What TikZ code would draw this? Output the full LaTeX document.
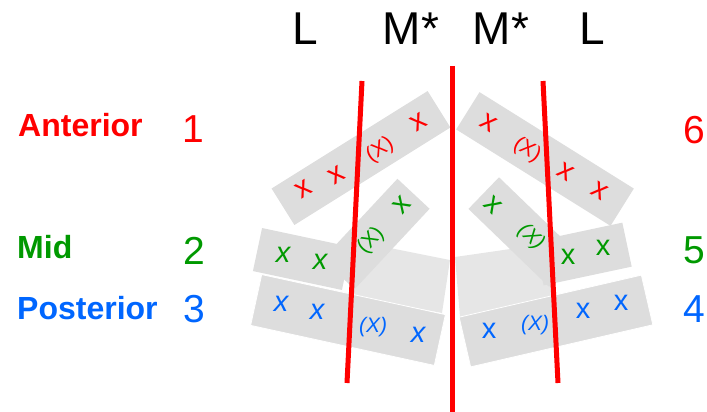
\documentclass[tikz,border=0pt]{standalone}
\usepackage{fontspec}
\setmainfont{Liberation Sans}
\usepackage{tikz}
\usetikzlibrary{positioning}
\definecolor{antred}{RGB}{255,0,0}
\definecolor{midgreen}{RGB}{0,153,0}
\definecolor{postblue}{RGB}{0,102,255}
\definecolor{boxgray}{RGB}{221,221,221}
\definecolor{shadegray}{RGB}{230,230,230}

\begin{document}
\begin{tikzpicture}[
    x=1pt, y=-1pt,
    head/.style={anchor=base, inner sep=0pt, font=\fontsize{46}{50}\selectfont},
    side/.style={anchor=base west, inner sep=0pt, font=\fontsize{32}{36}\selectfont\bfseries},
    num/.style={anchor=base, inner sep=0pt, font=\fontsize{39}{42}\selectfont},
    slab/.style={rectangle, fill=boxgray, inner sep=0pt},
    xmark/.style={inner sep=0pt, font=\fontsize{29}{31}\selectfont},
    ixmark/.style={inner sep=0pt, font=\fontsize{29}{31}\selectfont\itshape},
    pmark/.style={inner sep=0pt, font=\fontsize{21}{23}\selectfont},
    ipmark/.style={inner sep=0pt, font=\fontsize{21}{23}\selectfont\itshape},
    cut/.style={draw=antred, line width=5pt}
]
\useasboundingbox (0,0) rectangle (707,412);

% Header
\node[head] (hl1) at (305,45) {L};
\node[head] (hm1) at (411,45) {M*};
\node[head] (hm2) at (501,45) {M*};
\node[head] (hl2) at (592,45) {L};

% Row labels
\node[side, text=antred] (ant) at (18,136) {Anterior};
\node[side, text=midgreen] (mid) at (17,258) {Mid};
\node[side, text=postblue] (post) at (17,319) {Posterior};
\node[num, text=antred] (n1) at (193,142) {1};
\node[num, text=midgreen] (n2) at (194,264) {2};
\node[num, text=postblue] (n3) at (194,322) {3};
\node[num, text=antred] (n6) at (694,143) {6};
\node[num, text=midgreen] (n5) at (694,263) {5};
\node[num, text=postblue] (n4) at (694,322) {4};

% Shaded background between the mid slabs
\fill[shadegray] (360,242) -- (450,260) -- (442,313) -- (350,295) -- cycle;
\fill[shadegray] (455,257) -- (545,244) -- (555,300) -- (460,317) -- cycle;

% Mid slabs
\node[slab, minimum width=110pt, minimum height=44pt, rotate=47] (midtl) at (376,234) {};
\node[slab, minimum width=112pt, minimum height=44pt, rotate=-44] (midtr) at (524,232) {};
\node[slab, minimum width=91pt, minimum height=44pt, rotate=-12] (midl) at (302,259) {};
\node[slab, minimum width=90pt, minimum height=45pt, rotate=12] (midr) at (583,254) {};

% Posterior slabs
\node[slab, draw=white, line width=0.8pt, minimum width=188pt, minimum height=52pt, rotate=-12.3] (postl) at (348,320) {};
\node[slab, draw=white, line width=0.8pt, minimum width=187pt, minimum height=51pt, rotate=13] (postr) at (556,321) {};

% Anterior slabs
\node[slab, minimum width=184pt, minimum height=43pt, rotate=32] (antl) at (361,158) {};
\node[slab, minimum width=182pt, minimum height=44pt, rotate=-32] (antr) at (545,159) {};

% Anterior marks
\node[xmark, text=antred, rotate=32] (a1) at (304,189) {x};
\node[xmark, text=antred, rotate=32] (a2) at (337,175) {x};
\node[pmark, text=antred, rotate=32] (a3) at (380,150) {(X)};
\node[xmark, text=antred, rotate=32] (a4) at (419,122) {x};
\node[xmark, text=antred, rotate=-32] (a5) at (489,123) {x};
\node[pmark, text=antred, rotate=-32] (a6) at (527,150) {(X)};
\node[xmark, text=antred, rotate=-32] (a7) at (566,172) {x};
\node[xmark, text=antred, rotate=-32] (a8) at (600,191) {x};

% Mid marks
\node[xmark, text=midgreen, rotate=47] (m1) at (402,205) {x};
\node[pmark, text=midgreen, rotate=47] (m2) at (371,241) {(X)};
\node[xmark, text=midgreen, rotate=-44] (m3) at (493,205) {x};
\node[ipmark, text=midgreen, rotate=-44] (m4) at (531,237) {(X)};
\node[ixmark, text=midgreen] (m5) at (283,255) {x};
\node[ixmark, text=midgreen] (m6) at (320,262) {x};
\node[xmark, text=midgreen] (m7) at (568,257) {x};
\node[xmark, text=midgreen] (m8) at (603,248) {x};

% Posterior marks
\node[ixmark, text=postblue] (p1) at (281,304) {x};
\node[ixmark, text=postblue] (p2) at (317,312) {x};
\node[ipmark, text=postblue] (p3) at (373,327) {(X)};
\node[ixmark, text=postblue] (p4) at (418,335) {x};
\node[xmark, text=postblue] (p5) at (489,331) {x};
\node[ipmark, text=postblue] (p6) at (535,325) {(X)};
\node[xmark, text=postblue] (p7) at (583,311) {x};
\node[xmark, text=postblue] (p8) at (621,303) {x};

% Cut lines
\coordinate (ctop) at (452,66);
\coordinate (cbot) at (452,412);
\coordinate (ltop) at (362,81);
\coordinate (lbot) at (347,383);
\coordinate (rtop) at (543,81);
\coordinate (rbot) at (558,383);
\draw[cut] (ctop) -- (cbot);
\draw[cut] (ltop) -- (lbot);
\draw[cut] (rtop) -- (rbot);

\end{tikzpicture}
\end{document}
